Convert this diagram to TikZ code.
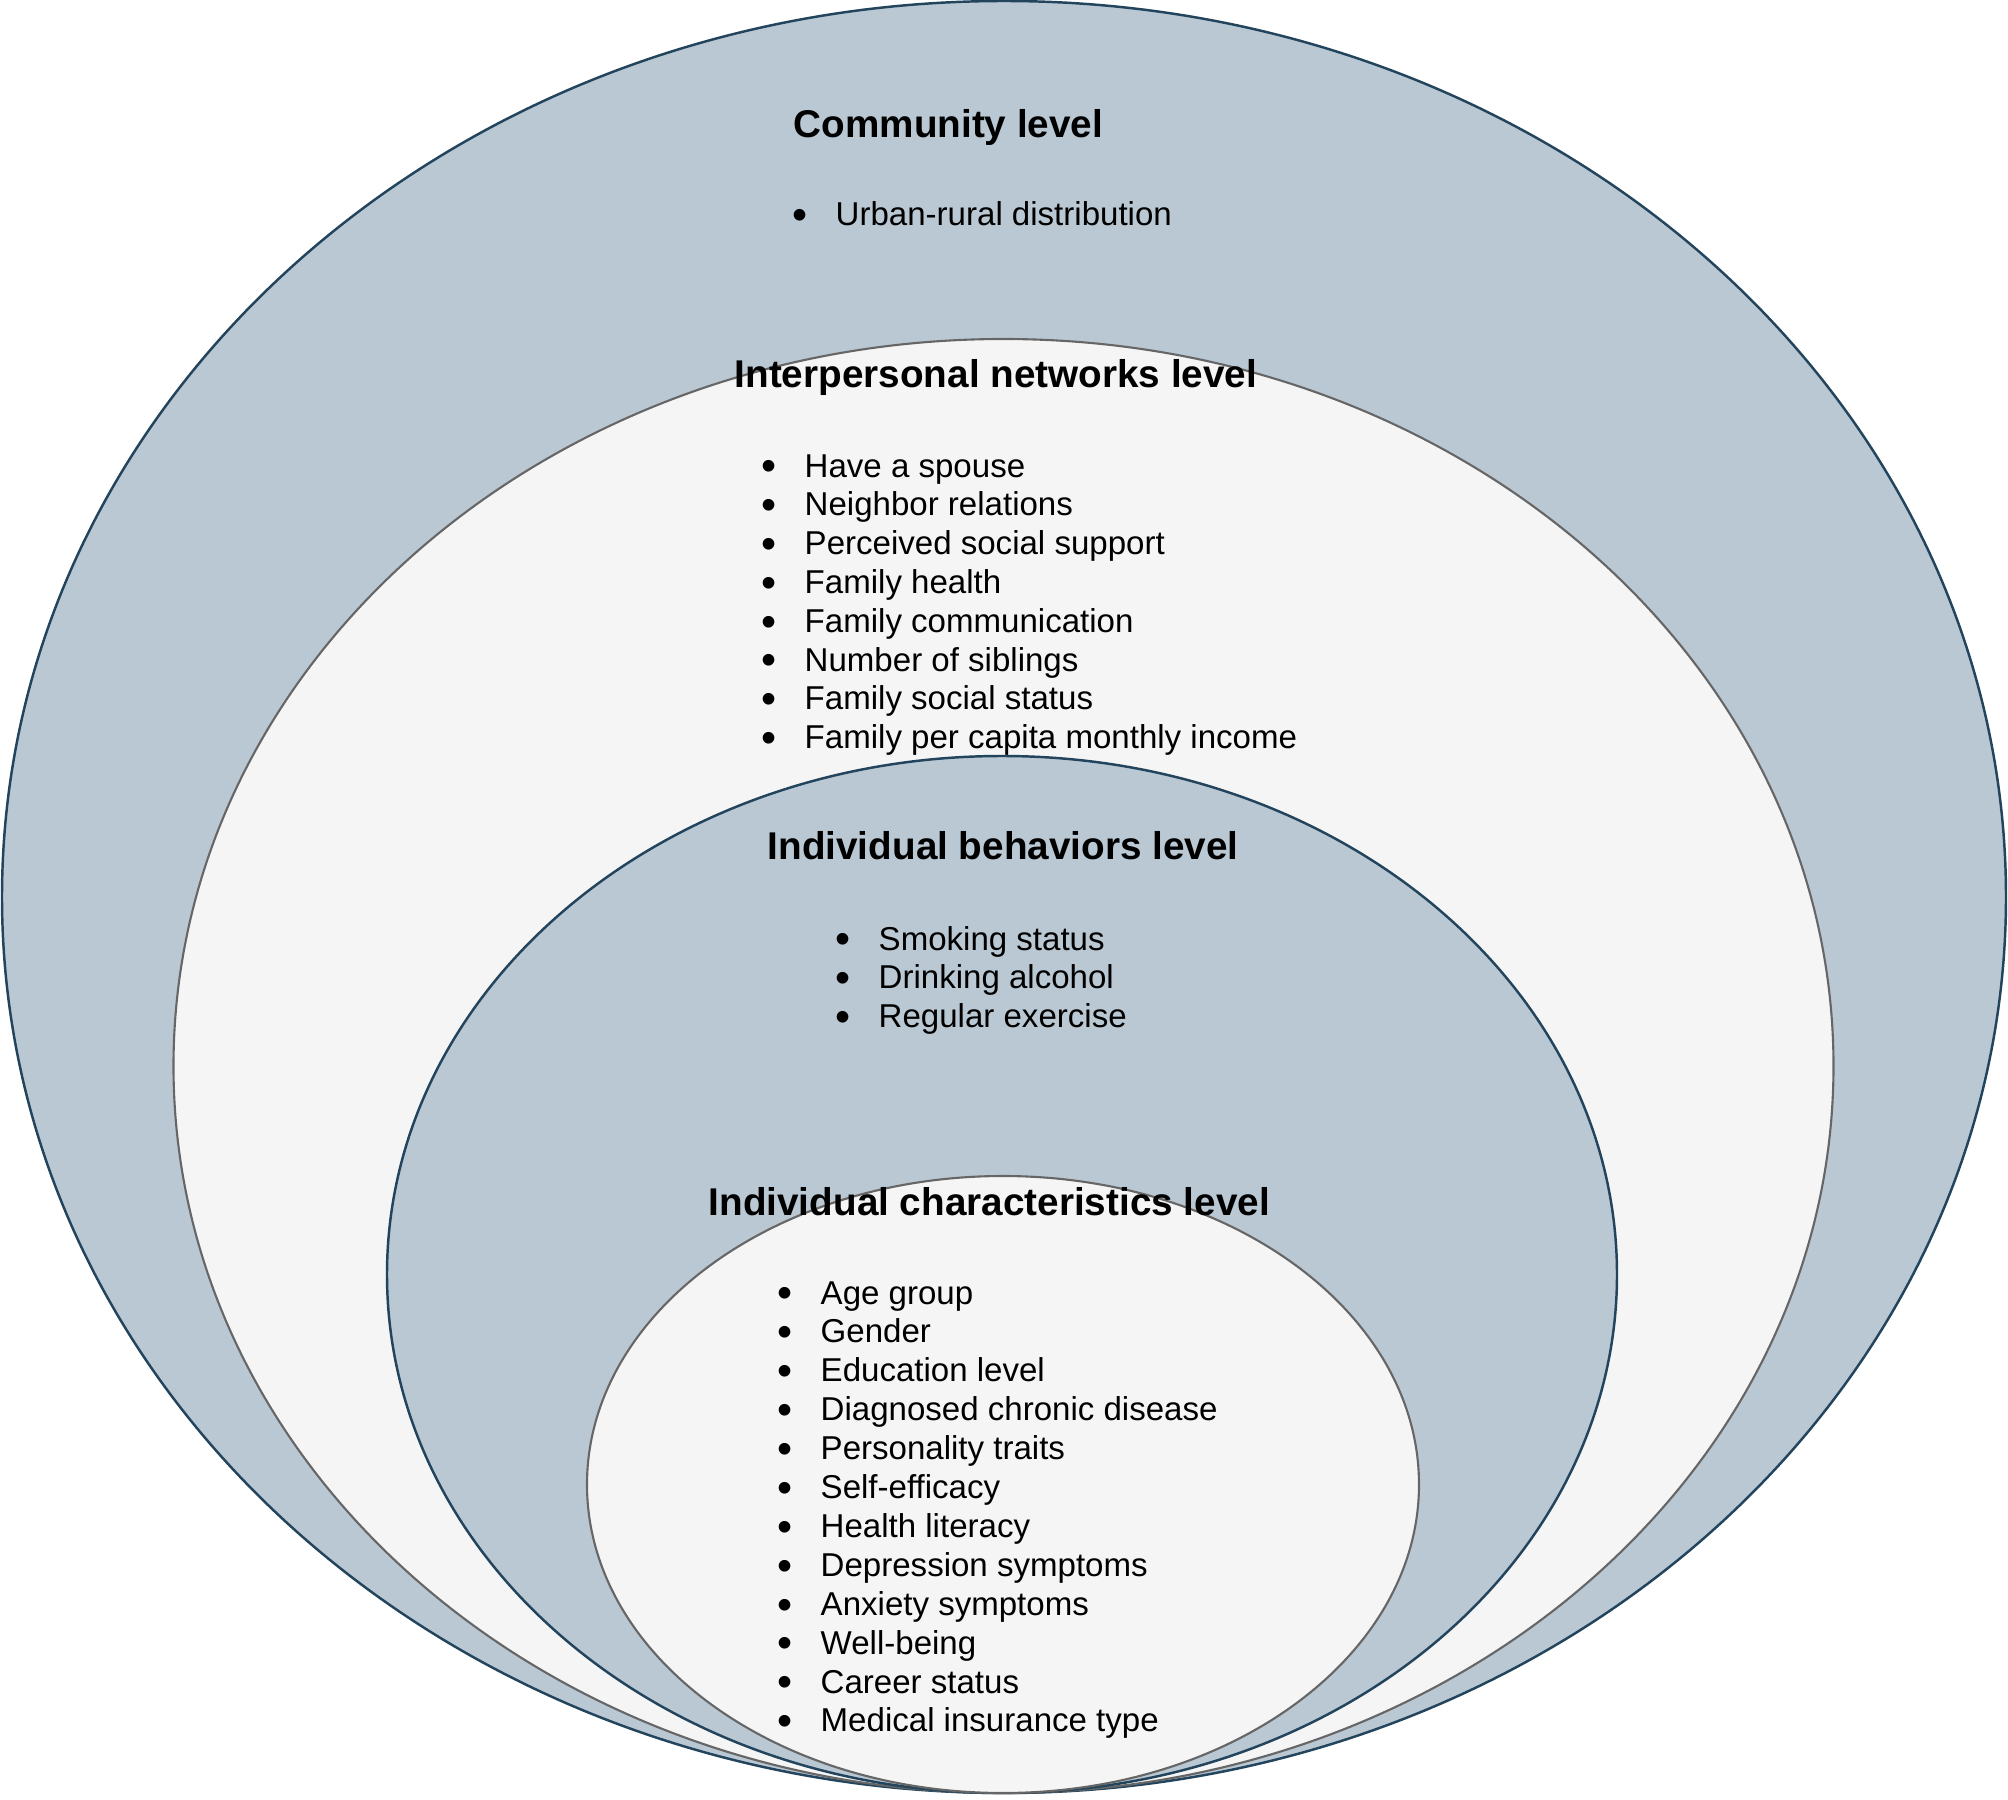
\documentclass[tikz,border=0pt]{standalone}
\usepackage{graphicx}
\usepackage{fontspec}
\setmainfont{Liberation Sans}
\definecolor{ringblue}{HTML}{BAC8D3}
\definecolor{ringline}{HTML}{23445D}
\definecolor{ringgray}{HTML}{F5F5F5}
\definecolor{grayline}{HTML}{666666}
\tikzset{
  bluering/.style={fill=ringblue, draw=ringline, line width=0.7pt},
  grayring/.style={fill=ringgray, draw=grayline, line width=0.6pt},
  lvltitle/.style={font=\fontsize{11}{13}\selectfont\bfseries, inner sep=0pt, anchor=base west},
  lvlitem/.style={font=\fontsize{9.4}{11}\selectfont, inner sep=0pt, anchor=base west},
}
\newcommand{\bul}{\llap{\raisebox{-1.1pt}{\scalebox{1.3}{\textbullet}}\hspace{7.9pt}}}
\begin{document}
\begin{tikzpicture}[x=0.01cm, y=-0.01cm]
    \useasboundingbox (0,0) rectangle (2008,1800);

    % the four rings
    \draw[bluering] (1004,897) ellipse [x radius=1002, y radius=896];
    \draw[grayring] (1003.5,1066) ellipse [x radius=830, y radius=727];
    \draw[bluering] (1002,1274.5) ellipse [x radius=615, y radius=518.5];
    \draw[grayring] (1003,1484.5) ellipse [x radius=416, y radius=308.5];

    % Community level
    \node[lvltitle] (comm) at (793,138) {Community level};
    \node[lvlitem] (comm-1) at (835,226) {\bul Urban-rural distribution};

    % Interpersonal networks level
    \node[lvltitle] (inter) at (734,388) {Interpersonal networks level};
    \foreach \t [count=\i] in {Have a spouse, Neighbor relations,
        Perceived social support, Family health, Family communication,
        Number of siblings, Family social status,
        Family per capita monthly income}
        \node[lvlitem] (inter-\i) at (804,{477+38.8*(\i-1)}) {\bul \t};

    % Individual behaviors level
    \node[lvltitle] (behav) at (767,859) {Individual behaviors level};
    \foreach \t [count=\i] in {Smoking status, Drinking alcohol, Regular exercise}
        \node[lvlitem] (behav-\i) at (878,{950+38.8*(\i-1)}) {\bul \t};

    % Individual characteristics level
    \node[lvltitle] (chars) at (708,1215) {Individual characteristics level};
    \foreach \t [count=\i] in {Age group, Gender, Education level,
        Diagnosed chronic disease, Personality traits, Self-efficacy,
        Health literacy, Depression symptoms, Anxiety symptoms, Well-being,
        Career status, Medical insurance type}
        \node[lvlitem] (chars-\i) at (820,{1304+38.9*(\i-1)}) {\bul \t};
\end{tikzpicture}
\end{document}
